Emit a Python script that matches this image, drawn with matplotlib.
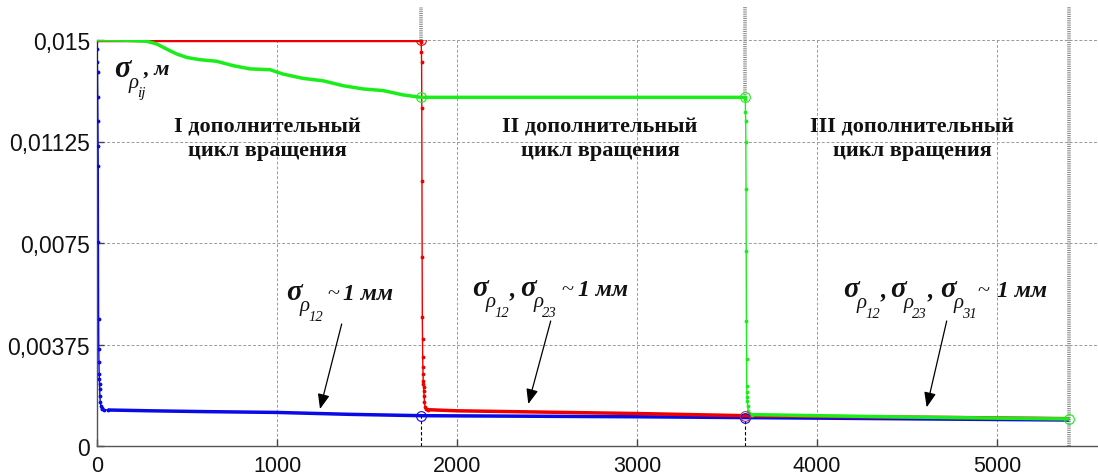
import numpy as np
import matplotlib
matplotlib.use('Agg')
import matplotlib.pyplot as plt
from matplotlib.patches import FancyArrowPatch

plt.rcParams['font.family'] = ['Liberation Sans', 'DejaVu Sans']

# ---------------- data ----------------
x_ticks = [0, 1000, 2000, 3000, 4000, 5000]
y_ticks = [0, 0.00375, 0.0075, 0.01125, 0.015]
y_tick_labels = ['0', '0,00375', '0,0075', '0,01125', '0,015']
cycle_ends = [1800, 3600, 5400]

# blue series (sigma_rho12)
blue_drop_x = [0, 1, 2, 3, 4, 5, 6, 7, 8, 9, 10, 11, 12, 13, 14, 15, 16, 18, 21, 25, 30, 40, 60]
blue_drop_y = [0.0150, 0.01467, 0.01418, 0.01381, 0.01289, 0.01201, 0.01108, 0.01035, 0.00754,
               0.00470, 0.00359, 0.00312, 0.00267, 0.00248, 0.00230, 0.00211, 0.00186, 0.00165,
               0.00150, 0.00142, 0.00138, 0.00135, 0.00134]
blue_tail_x = [60, 300, 600, 1000, 1400, 1800, 2400, 3000, 3600, 4200, 4800, 5400]
blue_tail_y = [0.00134, 0.00131, 0.00128, 0.00125, 0.00118, 0.00113, 0.00111, 0.00109,
               0.00106, 0.00103, 0.00100, 0.00097]

# red series (sigma_rho23)
red_flat_x = [0, 1800]
red_flat_y = [0.0150, 0.0150]
red_drop_x = [1800, 1801, 1802, 1803, 1804, 1805, 1806, 1807, 1808, 1809, 1810, 1811, 1812,
              1813, 1814, 1815, 1817, 1819, 1822, 1826, 1832, 1840]
red_drop_y = [0.0150, 0.01493, 0.01457, 0.01417, 0.0125, 0.0098, 0.0070, 0.00477, 0.00396,
              0.00330, 0.00293, 0.00267, 0.00241, 0.00230, 0.00219, 0.00204, 0.00186, 0.00164,
              0.00145, 0.00138, 0.00136, 0.00135]
red_tail_x = [1840, 2000, 2400, 3000, 3600, 4200, 4800, 5400]
red_tail_y = [0.00135, 0.00131, 0.00127, 0.00121, 0.00113, 0.00109, 0.00106, 0.00102]

# green series (sigma_rho31)
green_slow_x = [0, 150, 276, 332, 390, 443, 500, 572, 665, 756, 850, 961, 1033, 1144, 1256,
                1367, 1478, 1589, 1700, 1800, 3600]
green_slow_y = [0.01500, 0.01499, 0.01495, 0.01485, 0.01465, 0.01448, 0.01435, 0.01427, 0.01421,
                0.01405, 0.01393, 0.01390, 0.01374, 0.01358, 0.01349, 0.01331, 0.01319, 0.01313,
                0.01297, 0.01288, 0.01288]
green_drop_x = [3600, 3601, 3602, 3603, 3604, 3605, 3606, 3607, 3608, 3609, 3610, 3611, 3612,
                3614, 3617, 3621, 3627, 3640]
green_drop_y = [0.01288, 0.01282, 0.01234, 0.01202, 0.01123, 0.0095, 0.0072, 0.00464, 0.00322,
                0.00224, 0.0020, 0.00182, 0.00168, 0.0015, 0.00131, 0.00122, 0.00119, 0.00117]
green_tail_x = [3640, 4000, 4500, 5000, 5400]
green_tail_y = [0.00117, 0.00113, 0.00108, 0.00104, 0.00101]

cycle_texts = ['I дополнительный\nцикл вращения',
               'II дополнительный\nцикл вращения',
               'III дополнительный\nцикл вращения']
label_subs = [['12'], ['12', '23'], ['12', '23', '31']]
approx_text = '1 мм'
unit_text = ', м'

# ---------------- figure ----------------
W, H = 1098, 477
fig = plt.figure(figsize=(W / 100, H / 100), dpi=100)
ax = fig.add_axes([97 / W, 1 - 447.3 / H, 1001 / W, (447.3 - 40.9) / H])

BLUE, RED, GREEN = '#0a0ae6', '#ee0000', '#1aee1a'
THICK = 2.5

def series(drops, slows, color):
    for (x, y) in slows:
        ax.plot(x, y, color=color, lw=THICK, solid_capstyle='butt', zorder=3)
    for (x, y) in drops:
        ax.plot(x, y, color=color, lw=1.0, marker='.', ms=3.5, zorder=3)

series([(blue_drop_x, blue_drop_y)], [(blue_tail_x, blue_tail_y)], BLUE)
series([(red_drop_x, red_drop_y)], [(red_flat_x, red_flat_y), (red_tail_x, red_tail_y)], RED)
series([(green_drop_x, green_drop_y)], [(green_slow_x, green_slow_y), (green_tail_x, green_tail_y)], GREEN)

def val(xs, ys, x):
    return float(np.interp(x, xs, ys))

blue_all_x = blue_drop_x + blue_tail_x
blue_all_y = blue_drop_y + blue_tail_y
green_all_x = green_slow_x + green_tail_x
green_all_y = green_slow_y + green_tail_y

# circles at cycle ends
circ = dict(marker='o', ms=7, mfc='none', mew=0.8, ls='none', zorder=5)
ax.plot(cycle_ends[:2], [val(blue_all_x, blue_all_y, c) for c in cycle_ends[:2]],
        color=BLUE, **circ)
ax.plot([cycle_ends[0]], [red_flat_y[-1]], color=RED, **circ)
ax.plot([cycle_ends[1]], [val(red_tail_x, red_tail_y, cycle_ends[1])], color='#b03060', **circ)
ax.plot(cycle_ends, [val(green_all_x, green_all_y, c) for c in cycle_ends], color=GREEN, **circ)

# black dashed below bottom circles
for c in cycle_ends[:2]:
    ax.plot([c, c], [0, val(blue_all_x, blue_all_y, c)], color='k', lw=0.8,
            dashes=(3, 2), zorder=4)

# gray striped markers at cycle ends (extending above axes)
y_top = 0.0162
starts = [red_flat_y[-1], green_slow_y[-1], 0]
for c, s in zip(cycle_ends, starts):
    ax.plot([c, c], [s, y_top], color='#8c8c8c', lw=2.6, dashes=(0.3, 0.3),
            clip_on=False, zorder=2)

# axes styling
ax.set_xlim(0, 5560)
ax.set_ylim(0, 0.015)
ax.set_xticks(x_ticks)
ax.set_xticklabels([str(v) for v in x_ticks])
ax.set_yticks(y_ticks)
ax.set_yticklabels(y_tick_labels)
ax.tick_params(direction='in', length=5, width=1, color='#444444', labelcolor='#111111')
ax.tick_params(axis='y', pad=5, labelsize=16.5)
ax.tick_params(axis='x', pad=6, labelsize=15.5)
for s in ['top', 'right']:
    ax.spines[s].set_visible(False)
for s in ['left', 'bottom']:
    ax.spines[s].set_color('#555555')
    ax.spines[s].set_linewidth(1.0)
ax.grid(True, color='#9a9a9a', lw=0.7, dashes=(3, 2))
ax.set_axisbelow(True)

# ---------------- annotations ----------------
serif = ['Liberation Serif', 'DejaVu Serif']

def piece(x, y, s, size, style='italic', weight='normal'):
    fig.text(x / W, 1 - y / H, s, family=serif, fontsize=size, style=style,
             weight=weight, ha='left', va='baseline', color='#111111')

for txt, (cx, cy) in zip(cycle_texts, [(267, 139), (600, 139), (912, 139)]):
    fig.text(cx / W, 1 - cy / H, txt, ha='center', va='center', ma='center', family=serif,
             weight='bold', fontsize=16, linespacing=1.25, color='#111111')

def sigma_group(x0, yb, sub, big=21, mid=15, small=10.5, dx1=14, dx2=22, dy1=11, dy2=21):
    piece(x0, yb, 'σ', big, weight='bold')
    piece(x0 + dx1, yb + dy1, 'ρ', mid)
    piece(x0 + dx2, yb + dy2, sub, small)

# sigma_rho_ij, m
sigma_group(114, 77, 'ij', big=22, mid=15, small=11, dx1=15, dx2=23, dy1=11, dy2=20)
piece(143, 75, unit_text, 16, weight='bold')

# group anchors (x of each sigma), baseline, tilde x, value x
label_layout = [
    ([286], 300, 327, 343),
    ([472, 520], 296, 561, 578),
    ([843, 890, 940], 297, 977, 997),
]
for subs, (xs, yb, xt, xv) in zip(label_subs, label_layout):
    for i, (x0, sub) in enumerate(zip(xs, subs)):
        sigma_group(x0, yb, sub)
        if i < len(subs) - 1:
            piece(x0 + 38, yb, ',', 18, weight='bold')
    piece(xt, yb - 1, '~', 16, style='normal')
    piece(xv, yb, approx_text, 17, weight='bold')

arrows = [((341.7, 325), (320, 410)), ((550.7, 322), (528.3, 405)), ((946.7, 322), (926.7, 408.3))]
for a, b in arrows:
    fig.add_artist(FancyArrowPatch((a[0] / W, 1 - a[1] / H), (b[0] / W, 1 - b[1] / H),
                                   transform=fig.transFigure,
                                   arrowstyle='-|>,head_length=0.75,head_width=0.3',
                                   mutation_scale=12, lw=0.9, color='black',
                                   shrinkA=0, shrinkB=0))

fig.savefig('out.png', dpi=100)
